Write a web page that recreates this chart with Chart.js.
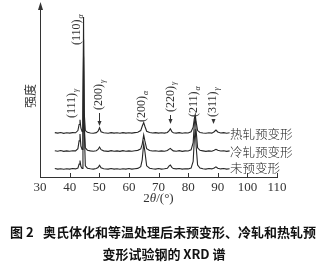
<html>
<head>
<meta charset="utf-8">
<script src="https://cdn.jsdelivr.net/npm/chart.js@4.4.0/dist/chart.umd.min.js"></script>
<style>
  body { margin: 0; background: #fff; }
</style>
</head>
<body>
<canvas id="chart" width="328" height="267"></canvas>
<script>
// 2theta positions (deg), shared by all three scans
var twoTheta = [35,36,37,38,39,40,41,42,42.8,43.2,43.5,43.8,44.2,44.5,44.7,44.9,45.3,46,47,48,49,49.6,50.1,50.6,51.5,53,54,55,56,57,58,59,60,61,62,63,64,64.5,65,65.4,66,67,68,69,70,71,72,73,73.6,74,74.5,75,76,77,78,79,80,81,81.7,82.1,82.4,82.7,83.2,84,85,86,87,88,88.8,89.4,90,91,92,93,94];

// intensity (arbitrary units, offset per scan)
var noDeform = [4.9,4.6,4.8,4.5,4.8,4.6,4.9,4.7,5.2,7.5,9.6,6.2,5.0,20,93,30,6.5,5.1,4.8,4.6,4.9,5.5,6.8,5.3,4.8,4.6,4.9,4.6,4.8,4.5,4.8,4.6,4.9,4.6,4.8,5.0,6.0,10,19.5,15,6.5,5.1,4.8,4.6,4.9,4.6,4.8,5.1,6.5,7.0,5.6,4.9,4.7,4.9,4.6,4.8,4.7,5.2,9,22,28,18,7,5.2,4.8,4.6,4.9,4.7,5.2,5.9,5.1,4.7,4.9,4.6,4.8];
var coldRolled = [15.3,15.0,15.4,14.9,15.2,15.0,15.3,15.2,16.5,21,25,18,16,25,80,32,17,15.6,15.2,15.0,15.3,16,17.4,15.9,15.2,14.9,15.3,15.0,15.2,14.9,15.3,15.0,15.2,15.0,15.3,15.5,16.3,19,24.5,21,16.5,15.4,15.1,15.3,15.0,15.2,15.0,15.4,16.2,16.6,15.8,15.2,15.0,15.3,14.9,15.2,15.1,15.8,20,31,35,27,17,15.5,15.2,14.9,15.2,15.0,15.6,16.1,15.5,15.1,15.3,14.9,15.2];
var hotRolled = [25.8,25.5,25.9,25.4,25.7,25.5,25.8,25.7,27,30.5,33.3,28.5,26.5,35,70,38,27,26.0,25.6,25.4,25.8,26.6,28.6,26.3,25.7,25.4,25.8,25.5,25.7,25.4,25.8,25.5,25.7,25.5,25.8,26.0,27,29.5,31.6,29.5,26.6,25.9,25.6,25.8,25.5,25.7,25.5,25.9,27,28,26.4,25.7,25.5,25.8,25.4,25.7,25.6,26.3,29,34,36.2,32,27,25.9,25.6,25.4,25.7,25.5,26.3,27.3,26.2,25.6,25.8,25.4,25.7];

var seriesNames = ['未预变形', '冷轧预变形', '热轧预变形'];
var xTicks = [30, 40, 50, 60, 70, 80, 90, 100, 110];

// peak indexing
var peakHkl = ['(111)', '(110)', '(200)', '(200)', '(220)', '(211)', '(311)'];
var peakPhase = ['γ', 'α', 'γ', 'α', 'γ', 'α', 'γ'];
var peakAngle = [43.5, 44.7, 50, 65, 74, 82.4, 89.5];

function pts(ys) {
  return twoTheta.map(function(x, i) { return { x: x, y: ys[i] }; });
}

var serif = '"Liberation Serif", "DejaVu Serif", serif';
var cjk = '"Noto Sans CJK SC", sans-serif';

// label placement (screen px): x shift from peak, bottom of rotated text
var labelShift = [-8, -7, 0, -2, 0, -1, -3];
var labelBottom = [118, 45, 110, 122, 112, 117, 117];

var decor = {
  id: 'decor',
  afterDraw: function(chart) {
    var ctx = chart.ctx;
    var xs = chart.scales.x;
    var area = chart.chartArea;
    ctx.save();
    ctx.strokeStyle = '#333';
    ctx.fillStyle = '#333';
    ctx.lineWidth = 1;

    // y axis with arrow
    var ax = Math.round(area.left) + 0.5;
    ctx.beginPath();
    ctx.moveTo(ax, area.bottom);
    ctx.lineTo(ax, 6);
    ctx.stroke();
    ctx.beginPath();
    ctx.moveTo(ax, 2);
    ctx.lineTo(ax - 2.5, 10);
    ctx.lineTo(ax + 2.5, 10);
    ctx.closePath();
    ctx.fill();

    // inward ticks on x axis
    xTicks.forEach(function(v) {
      var px = Math.round(xs.getPixelForValue(v)) + 0.5;
      ctx.beginPath();
      ctx.moveTo(px, area.bottom);
      ctx.lineTo(px, area.bottom - 4);
      ctx.stroke();
    });

    // axis titles
    ctx.textBaseline = 'middle';
    var t1 = '2', t2 = 'θ', t3 = '/(°)';
    ctx.font = '13px ' + serif;
    var w1 = ctx.measureText(t1).width, w3 = ctx.measureText(t3).width;
    ctx.font = 'italic 13px ' + serif;
    var w2 = ctx.measureText(t2).width;
    var sx = xs.getPixelForValue(70) - (w1 + w2 + w3) / 2;
    ctx.textAlign = 'left';
    ctx.font = '13px ' + serif;
    ctx.fillText(t1, sx, 199);
    ctx.font = 'italic 13px ' + serif;
    ctx.fillText(t2, sx + w1, 199);
    ctx.font = '13px ' + serif;
    ctx.fillText(t3, sx + w1 + w2, 199);

    ctx.save();
    ctx.translate(30, 96);
    ctx.rotate(-Math.PI / 2);
    ctx.textAlign = 'center';
    ctx.font = '12px ' + cjk;
    ctx.fillText('强度', 0, 0);
    ctx.restore();

    // peak labels, rotated
    peakHkl.forEach(function(h, i) {
      var px = xs.getPixelForValue(peakAngle[i]) + labelShift[i];
      ctx.save();
      ctx.translate(px, labelBottom[i]);
      ctx.rotate(-Math.PI / 2);
      ctx.textAlign = 'left';
      ctx.textBaseline = 'middle';
      ctx.font = '12px ' + serif;
      ctx.fillText(h, 0, 0);
      var w = ctx.measureText(h).width;
      ctx.font = 'italic 8px ' + serif;
      ctx.fillText(peakPhase[i], w + 1, 4);
      ctx.restore();
    });

    // arrows to the weak austenite peaks
    [2, 4, 6].forEach(function(i) {
      var px = Math.round(xs.getPixelForValue(peakAngle[i]) + labelShift[i]) + 0.5;
      var top = labelBottom[i] + 3, tip = i === 2 ? 126 : 124;
      ctx.beginPath();
      ctx.moveTo(px, top);
      ctx.lineTo(px, tip - 3);
      ctx.stroke();
      ctx.beginPath();
      ctx.moveTo(px, tip);
      ctx.lineTo(px - 2, tip - 5);
      ctx.lineTo(px + 2, tip - 5);
      ctx.closePath();
      ctx.fill();
    });

    // series names at the right of each scan
    ctx.textAlign = 'left';
    ctx.textBaseline = 'middle';
    ctx.font = '300 12.5px ' + cjk;
    ctx.fillStyle = '#222';
    ctx.fillText(seriesNames[2], 230, 134);
    ctx.fillText(seriesNames[1], 230, 152);
    ctx.fillText(seriesNames[0], 230, 168);

    // caption
    ctx.fillStyle = '#111';
    ctx.font = 'bold 13px ' + cjk;
    ctx.fillText('图 2', 10, 232);
    ctx.fillText('奥氏体化和等温处理后未预变形、冷轧和热轧预', 43, 232);
    ctx.textAlign = 'center';
    ctx.fillText('变形试验钢的 XRD 谱', 164, 254);
    ctx.restore();
  }
};

function line(data) {
  return {
    data: pts(data),
    showLine: true,
    borderColor: '#262626',
    borderWidth: 1.1,
    pointRadius: 0,
    tension: 0
  };
}

new Chart(document.getElementById('chart'), {
  type: 'scatter',
  data: {
    datasets: [line(noDeform), line(coldRolled), line(hotRolled)]
  },
  options: {
    responsive: false,
    animation: false,
    devicePixelRatio: 1,
    layout: { padding: { left: 40, right: 51, top: 5, bottom: 0 } },
    plugins: { legend: { display: false }, tooltip: { enabled: false } },
    scales: {
      x: {
        type: 'linear',
        min: 30,
        max: 110,
        afterBuildTicks: function(scale) {
          scale.ticks = xTicks.map(function(v) { return { value: v }; });
        },
        ticks: {
          color: '#333',
          padding: 3,
          maxRotation: 0,
          font: { family: serif, size: 13 }
        },
        grid: { display: false, drawTicks: false },
        border: { display: true, color: '#333', width: 1 },
        afterFit: function(scale) { scale.height = 90; }
      },
      y: {
        display: false,
        min: 0,
        max: 100
      }
    }
  },
  plugins: [decor]
});
</script>
</body>
</html>
